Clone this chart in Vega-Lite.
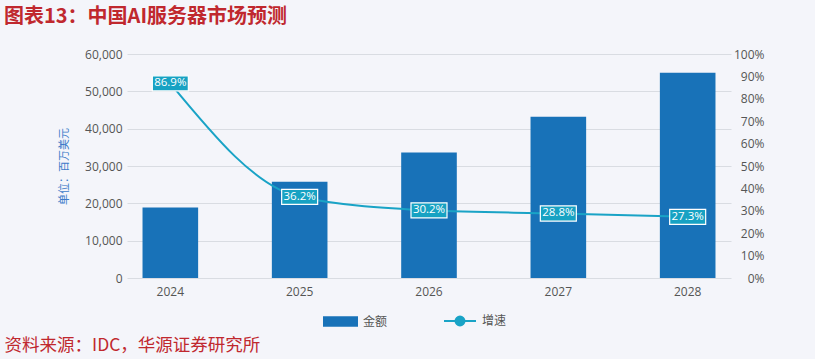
{
  "$schema": "https://vega.github.io/schema/vega-lite/v6.json",
  "width": 604,
  "height": 224,
  "autosize": {"type": "none"},
  "padding": {"left": 127, "top": 54, "right": 84, "bottom": 81},
  "background": "#f4f5fa",
  "title": {
    "text": "图表13：中国AI服务器市场预测",
    "anchor": "start",
    "frame": "group",
    "dx": -123,
    "offset": 21,
    "font": "Noto Sans CJK SC",
    "fontSize": 20,
    "fontWeight": "bold",
    "color": "#c0282e"
  },
  "config": {
    "view": {"stroke": null},
    "font": "Open Sans"
  },
  "data": {
    "values": [
      {"年份": "2024", "金额": 18900, "增速": 0.869},
      {"年份": "2025", "金额": 25800, "增速": 0.362},
      {"年份": "2026", "金额": 33600, "增速": 0.302},
      {"年份": "2027", "金额": 43200, "增速": 0.288},
      {"年份": "2028", "金额": 55000, "增速": 0.273}
    ]
  },
  "encoding": {
    "x": {
      "field": "年份",
      "type": "ordinal",
      "scale": {"paddingInner": 0.57, "paddingOuter": 0.12},
      "axis": {
        "labelAngle": 0,
        "domain": false,
        "ticks": false,
        "labelPadding": 8,
        "labelFontSize": 12,
        "labelColor": "#555555",
        "labelFont": "Open Sans",
        "title": "资料来源：IDC，华源证券研究所",
        "titleFont": "Noto Sans CJK SC",
        "titleFontSize": 17.5,
        "titleFontWeight": "normal",
        "titleColor": "#c0282e",
        "titleAnchor": "start",
        "titleAlign": "left",
        "titleBaseline": "middle",
        "titleX": -123,
        "titleY": 67
      }
    }
  },
  "layer": [
    {
      "mark": {"type": "bar", "color": "#1872b8"},
      "encoding": {
        "y": {
          "field": "金额",
          "type": "quantitative",
          "scale": {"domain": [0, 60000], "nice": false},
          "axis": {
            "values": [0, 10000, 20000, 30000, 40000, 50000, 60000],
            "format": ",.0f",
            "domain": false,
            "ticks": false,
            "tickSize": 0,
            "labelPadding": 5,
            "labelFontSize": 12,
            "labelColor": "#555555",
            "gridColor": "#d9dce2",
            "gridWidth": 1,
            "title": "单位：百万美元",
            "titleFont": "Noto Sans CJK SC",
            "titleFontSize": 11,
            "titleFontWeight": "normal",
            "titleColor": "#3d7cc9",
            "titlePadding": 15
          }
        },
        "fill": {
          "datum": "金额",
          "scale": {"range": ["#1872b8"]},
          "legend": {
            "orient": "none",
            "legendX": 196,
            "legendY": 250,
            "padding": 0,
            "title": null,
            "symbolType": "M-1,-0.3L1,-0.3L1,0.3L-1,0.3Z",
            "symbolSize": 1225,
            "symbolStrokeWidth": 0,
            "labelFont": "Noto Sans CJK SC",
            "labelFontSize": 12,
            "labelColor": "#555555",
            "labelOffset": 5
          }
        }
      }
    },
    {
      "encoding": {
        "y": {
          "field": "增速",
          "type": "quantitative",
          "scale": {"domain": [0, 1], "nice": false},
          "axis": {
            "orient": "right",
            "values": [0, 0.1, 0.2, 0.3, 0.4, 0.5, 0.6, 0.7, 0.8, 0.9, 1],
            "format": ".0%",
            "grid": false,
            "domain": false,
            "ticks": false,
            "tickSize": 0,
            "labelAlign": "right",
            "labelPadding": 33,
            "labelFontSize": 12,
            "labelColor": "#555555",
            "title": null
          }
        }
      },
      "layer": [
        {
          "mark": {"type": "line", "interpolate": "monotone", "strokeWidth": 2, "color": "#19a3c6"},
          "encoding": {
            "stroke": {
              "datum": "增速",
              "scale": {"range": ["#19a3c6"]},
              "legend": {
                "orient": "none",
                "legendX": 316,
                "legendY": 250,
                "padding": 0,
                "title": null,
                "symbolType": "M-1,0L1,0M0.28,0A0.28,0.28,0,1,1,-0.28,0A0.28,0.28,0,1,1,0.28,0Z",
                "symbolSize": 1024,
                "symbolStrokeWidth": 2,
                "symbolFillColor": "#19a3c6",
                "labelFont": "Noto Sans CJK SC",
                "labelFontSize": 12,
                "labelColor": "#555555",
                "labelOffset": 5
              }
            }
          }
        },
        {
          "mark": {
            "type": "point",
            "shape": "M-1,-0.42L1,-0.42L1,0.42L-1,0.42Z",
            "size": 1296,
            "filled": true,
            "fill": "#17a2c3",
            "stroke": "white",
            "strokeWidth": 1.2,
            "opacity": 1
          }
        },
        {
          "mark": {"type": "text", "color": "white", "fontSize": 11.5, "font": "Open Sans"},
          "encoding": {
            "text": {"field": "增速", "type": "quantitative", "format": ".1%"}
          }
        }
      ]
    }
  ],
  "resolve": {"scale": {"y": "independent"}}
}
